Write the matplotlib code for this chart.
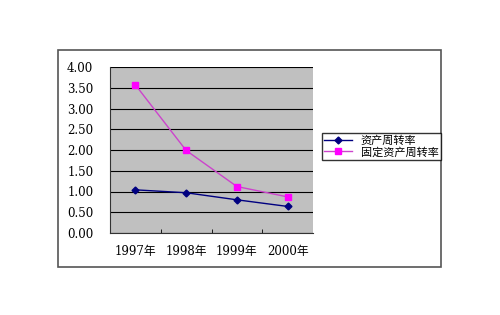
import matplotlib
matplotlib.use("Agg")
import matplotlib.pyplot as plt
from matplotlib.patches import Rectangle

plt.rcParams['font.family'] = ['Noto Sans CJK SC', 'DejaVu Sans']

years = ['1997年', '1998年', '1999年', '2000年']
asset_turnover = [1.04, 0.97, 0.80, 0.64]
fixed_turnover = [3.57, 1.99, 1.12, 0.87]
yticks = [0, 0.5, 1.0, 1.5, 2.0, 2.5, 3.0, 3.5, 4.0]

fig = plt.figure(figsize=(5, 3.15), dpi=100)
# outer chart frame
fig.patches.append(Rectangle((58/500, 1-267/315), 383/500, 217/315,
                             transform=fig.transFigure, fill=False,
                             edgecolor='#555555', linewidth=1.2))

ax = fig.add_axes([110/500, 1-233/315, 203/500, 166/315])
ax.set_facecolor('#C0C0C0')
x = list(range(len(years)))
ax.plot(x, asset_turnover, color='#000080', marker='D', markersize=3.5,
        linewidth=1, label='资产周转率')
ax.plot(x, fixed_turnover, color='#CC44CC', marker='s', markersize=4.5,
        markerfacecolor='#FF00FF', markeredgecolor='#FF00FF',
        linewidth=1, label='固定资产周转率')

ax.set_xlim(-0.5, 3.5)
ax.set_ylim(0, 4)
ax.set_yticks(yticks)
ax.set_yticklabels(['%.2f' % v for v in yticks], family='DejaVu Serif', fontsize=8.5)
ax.set_xticks(x)
ax.set_xticklabels(years, fontsize=8.5, family=['DejaVu Serif', 'Noto Sans CJK SC'])
ax.tick_params(axis='x', length=0, pad=9)
ax.tick_params(axis='y', length=0, pad=12)
ax.set_xticks([0.5, 1.5, 2.5], minor=True)
ax.tick_params(axis='x', which='minor', direction='in', length=3)
ax.grid(axis='y', color='black', linewidth=0.8)
ax.set_axisbelow(True)
for s in ['top', 'right']:
    ax.spines[s].set_visible(False)
for s in ['left', 'bottom']:
    ax.spines[s].set_color('#333333')

leg = fig.legend(loc='upper left', bbox_to_anchor=(322/500, 1-133/315),
                 fontsize=8, frameon=True, fancybox=False, borderpad=0.2,
                 handlelength=2.5, labelspacing=0.1, borderaxespad=0)
leg.get_frame().set_edgecolor('black')
leg.get_frame().set_linewidth(1)

fig.savefig('out.png', dpi=100)
